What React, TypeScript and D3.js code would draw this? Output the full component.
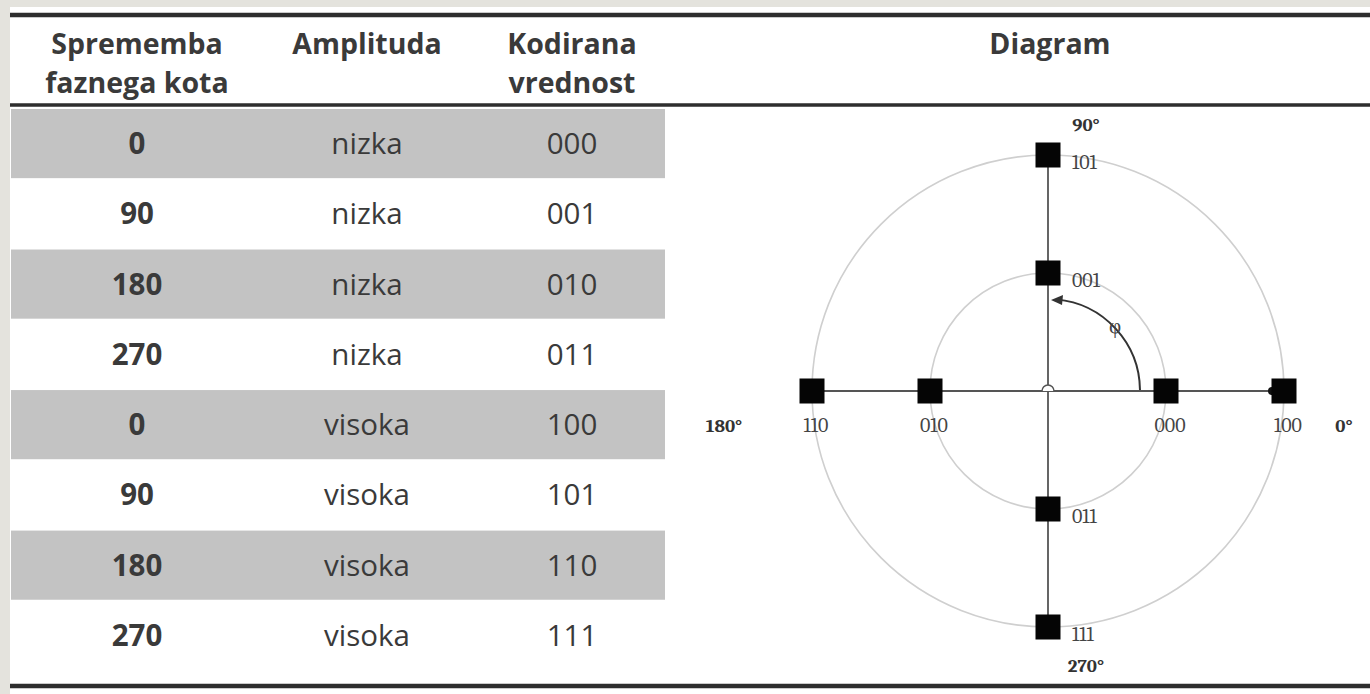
import * as React from 'react';
import * as d3 from 'd3';

// table values
const phaseShifts = [0, 90, 180, 270, 0, 90, 180, 270];
const amplitudes = ['nizka', 'nizka', 'nizka', 'nizka', 'visoka', 'visoka', 'visoka', 'visoka'];
const codes = ['000', '001', '010', '011', '100', '101', '110', '111'];
const headers = [['Sprememba', 'faznega kota'], ['Amplituda'], ['Kodirana', 'vrednost'], ['Diagram']];

// diagram values
const amplitudeLevels = ['nizka', 'visoka'];
const axisAngles = [0, 90, 180, 270];
const axisLabels = ['0°', '90°', '180°', '270°'];

const W = 1370;
const H = 694;
const FONT = '"Open Sans", Lato, sans-serif';
const SERIF = 'Cambria, "Liberation Serif", "DejaVu Serif", serif';

export default function App() {
  const ref = React.useRef<SVGSVGElement>(null);

  React.useEffect(() => {
    const svg = d3.select(ref.current);
    svg.selectAll('*').remove();

    svg.append('rect').attr('width', W).attr('height', H).attr('fill', '#e4e3dd');
    svg.append('rect').attr('x', 10).attr('y', 7).attr('width', W - 10).attr('height', H - 7).attr('fill', '#fff');

    const y = d3.scaleBand<number>()
      .domain(d3.range(codes.length))
      .range([110, 670])
      .paddingInner(0.03);
    const colX = [137, 367, 572, 1050];

    // striped rows
    svg.append('g').selectAll('rect')
      .data(d3.range(codes.length).filter(i => i % 2 === 0))
      .enter().append('rect')
      .attr('x', 11).attr('width', 654)
      .attr('y', i => y(i)! - 1)
      .attr('height', y.bandwidth() + 1)
      .attr('fill', '#c3c3c3');

    // rules
    const rules = [[15, 4.5], [105, 3.5], [686, 4.5]];
    svg.append('g').selectAll('rect')
      .data(rules).enter().append('rect')
      .attr('x', 10).attr('width', W - 10)
      .attr('y', d => d[0] - d[1] / 2).attr('height', d => d[1])
      .attr('fill', '#2e2e2e');

    // header
    const hg = svg.append('g')
      .attr('font-family', FONT).attr('font-weight', 700).attr('font-size', 28.5)
      .attr('fill', '#3a3a3a').attr('text-anchor', 'middle');
    headers.forEach((lines, c) => {
      lines.forEach((t, k) => {
        hg.append('text').attr('x', colX[c]).attr('y', 54 + k * 39).text(t);
      });
    });

    // body
    const bg = svg.append('g').attr('font-family', FONT).attr('font-size', 29.5).attr('fill', '#3a3a3a').attr('text-anchor', 'middle');
    const cols = [phaseShifts.map(String), amplitudes, codes];
    cols.forEach((vals, c) => {
      bg.selectAll(null).data(vals).enter().append('text')
        .attr('x', colX[c])
        .attr('y', (_, i) => y(i)! + y.bandwidth() / 2 + 10)
        .attr('font-weight', c === 0 ? 700 : 400)
        .text(d => d);
    });

    // constellation diagram
    const cx = 1048;
    const cy = 391;
    const r = d3.scaleLinear().domain([0, amplitudeLevels.length]).range([0, 236]);
    const level = (a: string) => amplitudeLevels.indexOf(a) + 1;
    const px = (ang: number, rad: number) => cx + rad * Math.cos(ang * Math.PI / 180);
    const py = (ang: number, rad: number) => cy - rad * Math.sin(ang * Math.PI / 180);
    const dg = svg.append('g');

    dg.selectAll('circle.ring').data(amplitudeLevels).enter().append('circle')
      .attr('class', 'ring')
      .attr('cx', cx).attr('cy', cy).attr('r', (_, i) => r(i + 1))
      .attr('fill', 'none').attr('stroke', '#cfcfcf').attr('stroke-width', 1.6);

    const outer = r(amplitudeLevels.length);
    dg.append('line').attr('x1', cx - outer).attr('x2', cx + outer).attr('y1', cy).attr('y2', cy)
      .attr('stroke', '#555').attr('stroke-width', 1.8);
    dg.append('line').attr('x1', cx).attr('x2', cx).attr('y1', cy - outer).attr('y2', cy + outer)
      .attr('stroke', '#555').attr('stroke-width', 1.8);
    // small hop at the crossing
    dg.append('path').attr('d', `M${cx - 6},${cy} A6,6 0 0 1 ${cx + 6},${cy}`)
      .attr('fill', '#fff').attr('stroke', '#555').attr('stroke-width', 1.5);

    // phi arrow
    const arcR = 92;
    const arc = d3.arc()({ innerRadius: arcR, outerRadius: arcR, startAngle: Math.PI / 2 - 0.01, endAngle: 0.09 } as any);
    dg.append('path').attr('d', arc as string).attr('transform', `translate(${cx},${cy})`)
      .attr('fill', 'none').attr('stroke', '#333').attr('stroke-width', 2);
    const tipY = cy - arcR;
    dg.append('path')
      .attr('d', `M${cx + 3},${tipY + 1} L${cx + 15},${tipY - 4} L${cx + 14},${tipY + 6} Z`)
      .attr('fill', '#333');
    dg.append('text').attr('x', cx + 67).attr('y', cy - 58)
      .attr('font-family', SERIF).attr('font-size', 21).attr('fill', '#444').attr('text-anchor', 'middle')
      .text('φ');

    // points
    const pts = codes.map((c, i) => ({ code: c, ang: phaseShifts[i], rad: r(level(amplitudes[i])) }));
    dg.append('circle').attr('cx', px(0, outer) - 12).attr('cy', cy).attr('r', 4).attr('fill', '#111');
    dg.selectAll('rect.pt').data(pts).enter().append('rect')
      .attr('class', 'pt')
      .attr('x', d => px(d.ang, d.rad) - 12.5).attr('y', d => py(d.ang, d.rad) - 12.5)
      .attr('width', 25).attr('height', 25).attr('fill', '#050505');

    const lg = dg.append('g').attr('font-family', SERIF).attr('font-size', 20).attr('fill', '#444');
    lg.selectAll('text').data(pts).enter().append('text')
      .attr('text-anchor', d => (d.ang % 180 === 0 ? 'middle' : 'start'))
      .attr('x', d => (d.ang % 180 === 0 ? px(d.ang, d.rad) + 4 : px(d.ang, d.rad) + 24))
      .attr('y', d => (d.ang % 180 === 0 ? py(d.ang, d.rad) + 41 : py(d.ang, d.rad) + 14))
      .text(d => d.code);

    const ag = dg.append('g').attr('font-family', SERIF).attr('font-weight', 700).attr('font-size', 19)
      .attr('fill', '#333').attr('text-anchor', 'middle');
    ag.selectAll('text').data(axisAngles).enter().append('text')
      .attr('x', a => (a === 0 ? cx + outer + 60 : a === 180 ? cx - outer - 88 : cx + 38))
      .attr('y', a => (a === 90 ? cy - outer - 24 : a === 270 ? cy + outer + 45 : cy + 41))
      .text((_, i) => axisLabels[i]);
  }, []);

  return (
    <svg ref={ref} width={W} height={H} style={{ position: 'absolute', left: 0, top: 0 }} />
  );
}
